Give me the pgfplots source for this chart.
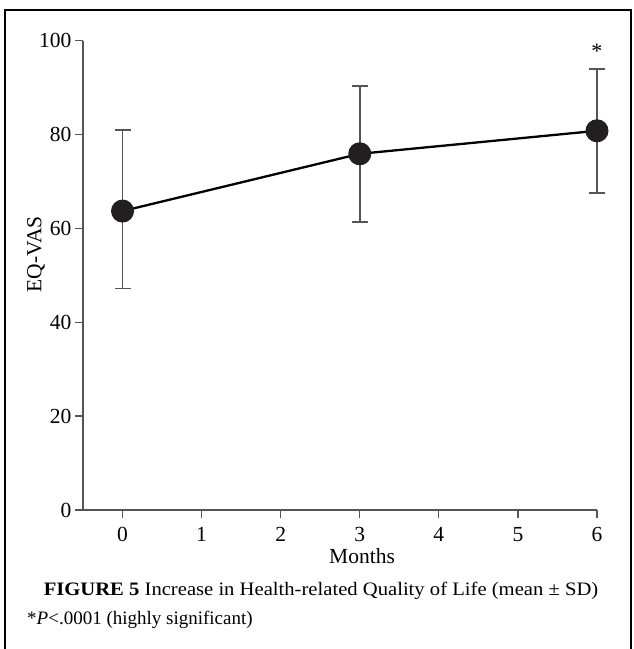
\documentclass[border=0pt]{standalone}
\usepackage{graphicx}
\usepackage{pgfplots}
\pgfplotsset{compat=1.18}
\usepackage{fontspec}
\setmainfont{Liberation Serif}
\definecolor{axgray}{HTML}{555555}
\definecolor{dotcol}{HTML}{231F20}
\begin{document}
\begin{tikzpicture}[x=1pt,y=1pt]
\useasboundingbox (0,0) rectangle (634,649);
\draw[line width=1.5pt] (5,0) -- (5,639) -- (631,639) -- (631,0);
\begin{axis}[
  at={(83pt,139pt)}, anchor=south west,
  scale only axis, width=514pt, height=469.3pt,
  xmin=-0.5, xmax=6, ymin=0, ymax=100,
  axis x line*=bottom, axis y line*=left,
  axis line style={axgray, line width=1.4pt, -},
  xtick={0,...,6}, ytick={0,20,...,100},
  tick align=outside, major tick length=8pt,
  tick style={axgray, line width=1.3pt},
  tick label style={font=\fontsize{21.5}{21.5}\selectfont},
  xticklabel style={yshift=-6pt},
  /pgf/number format/assume math mode=true,
  xlabel={Months}, ylabel={EQ-VAS},
  label style={font=\fontsize{21.5}{21.5}\selectfont},
  xlabel style={at={(axis description cs:0.543,0)}, anchor=base, yshift=-53pt},
  ylabel style={at={(axis description cs:-0.081,0.545)}, anchor=base, rotate=0},
  clip=false,
]
\addplot[black, line width=2.3pt, mark=*, mark size=11pt,
  mark options={fill=dotcol, draw=dotcol, line width=1pt},
  error bars/.cd, y dir=both, y explicit,
  error bar style={axgray, line width=1.6pt},
  error mark options={rotate=90, mark size=8pt, axgray, line width=1.6pt}]
coordinates {
  (0,63.7) += (0,17.3) -= (0,16.5)
  (3,75.9) += (0,14.5) -= (0,14.5)
  (6,80.8) += (0,13.2) -= (0,13.3)
};
\node[font=\fontsize{22}{22}\selectfont] at (axis cs:6,97.8) {*};
\end{axis}
\node[font=\fontsize{19}{19}\selectfont, anchor=base] at (321,53) {\scalebox{1.086}[1]{\textbf{FIGURE 5} Increase in Health-related Quality of Life (mean ± SD)}};
\node[font=\fontsize{19}{19}\selectfont, anchor=base west, inner sep=0pt] at (27,24) {*\textit{P}<.0001 (highly significant)};
\end{tikzpicture}
\end{document}
